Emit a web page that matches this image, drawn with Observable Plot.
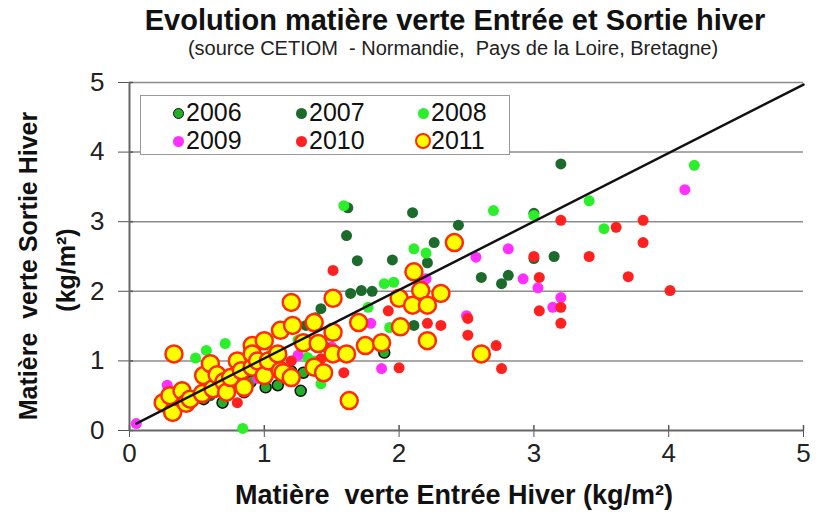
<!DOCTYPE html>
<html><head><meta charset="utf-8">
<script src="https://cdn.jsdelivr.net/npm/d3@7"></script>
<script src="https://cdn.jsdelivr.net/npm/@observablehq/plot@0.6"></script>
<style>
body{margin:0;background:#fff;font-family:"Liberation Sans",Arial,sans-serif;color:#111;}
#wrap{position:relative;width:822px;height:515px;overflow:hidden;}
.t{position:absolute;white-space:nowrap;}
#title{left:0;width:910px;top:6px;text-align:center;font-weight:bold;font-size:29px;line-height:29px;}
#sub{left:0;width:906px;top:38px;text-align:center;font-size:20px;line-height:20px;color:#222;}
#chart{position:absolute;left:0;top:60px;}
#xlab{left:0;width:908px;top:482px;text-align:center;font-weight:bold;font-size:27px;line-height:27px;}
.ylab{font-weight:bold;font-size:25px;line-height:25px;transform:translate(-50%,-50%) rotate(-90deg);}
#legend{position:absolute;left:140px;top:95px;width:368px;height:58px;background:#fff;border:1px solid #999;}
.li{position:absolute;font-size:25px;line-height:25px;}
.sw{position:absolute;border-radius:50%;box-sizing:border-box;}
</style></head>
<body><div id="wrap">
<div class="t" id="title">Evolution matière verte Entrée et Sortie hiver</div>
<div class="t" id="sub">(source CETIOM&nbsp; - Normandie,&nbsp; Pays de la Loire, Bretagne)</div>
<div id="chart"></div>
<div class="t ylab" style="left:28px;top:266px;">Matière&nbsp; verte Sortie Hiver</div>
<div class="t ylab" style="left:66px;top:270px;">(kg/m²)</div>
<div class="t" id="xlab">Matière&nbsp; verte Entrée Hiver (kg/m²)</div>
<div id="legend"></div>
</div>
<script>
const years = ["2006","2007","2008","2009","2010","2011"];
const xTicks = [0,1,2,3,4,5];
const yTicks = [0,1,2,3,4,5];
const refX = [0.05, 5];
const refY = [0.1, 4.97];

const d2006 = [[0.30,0.55],[0.55,0.45],[0.69,0.40],[0.75,0.62],[0.85,0.55],[0.90,0.70],[1.01,0.62],[1.10,0.65],[1.20,0.85],[1.27,0.57],[1.29,0.83],[1.89,1.12]];
const d2007 = [[0.60,0.50],[0.95,0.80],[1.10,1.00],[1.31,1.51],[1.38,1.62],[1.42,1.75],[1.50,1.85],[1.61,2.80],[1.62,3.20],[1.64,1.97],[1.69,2.44],[1.72,2.01],[1.80,2.00],[1.95,2.45],[2.10,3.13],[2.11,1.51],[2.21,2.41],[2.26,2.70],[2.44,2.95],[2.61,2.20],[2.76,2.11],[2.81,2.23],[3.00,2.47],[3.00,3.12],[3.15,2.50],[3.20,3.83]];
const d2008 = [[0.49,1.04],[0.57,1.15],[0.71,1.25],[0.84,0.03],[0.85,0.95],[1.05,1.10],[1.25,1.30],[1.32,1.05],[1.37,1.00],[1.42,0.67],[1.59,3.23],[1.77,1.77],[1.89,2.11],[1.93,1.48],[1.96,2.13],[2.11,2.61],[2.20,2.55],[2.70,3.16],[3.00,3.09],[3.41,3.30],[3.52,2.90],[4.19,3.81]];
const d2009 = [[0.05,0.10],[0.28,0.65],[0.95,0.75],[1.25,1.08],[1.50,1.20],[1.79,1.54],[1.87,0.89],[2.20,2.18],[2.50,1.65],[2.57,2.49],[2.81,2.61],[2.92,2.18],[3.03,2.05],[3.14,1.77],[3.20,1.91],[4.12,3.46]];
const d2010 = [[0.35,0.40],[0.80,0.40],[0.85,0.55],[1.15,0.75],[1.20,1.00],[1.42,1.03],[1.45,1.20],[1.51,2.30],[1.59,0.83],[1.92,1.72],[2.00,0.90],[2.21,1.54],[2.31,1.51],[2.51,1.61],[2.51,1.37],[2.72,1.22],[2.76,0.89],[3.00,2.50],[3.04,2.20],[3.04,1.72],[3.20,3.02],[3.20,1.77],[3.20,1.54],[3.41,2.50],[3.61,2.92],[3.70,2.21],[3.81,3.02],[3.81,2.70],[4.01,2.01]];
const d2011 = [[0.25,0.40],[0.30,0.50],[0.32,0.26],[0.33,1.10],[0.39,0.57],[0.42,0.39],[0.45,0.45],[0.54,0.53],[0.55,0.79],[0.60,0.96],[0.62,0.60],[0.65,0.80],[0.70,0.70],[0.72,0.55],[0.75,0.76],[0.80,1.00],[0.83,0.86],[0.85,0.62],[0.91,1.22],[0.91,0.91],[0.91,1.10],[0.95,1.00],[1.00,1.29],[1.00,0.79],[1.03,1.00],[1.10,1.10],[1.12,1.44],[1.12,0.86],[1.14,0.83],[1.20,1.84],[1.20,0.76],[1.21,1.51],[1.29,1.26],[1.37,1.55],[1.37,0.91],[1.40,1.25],[1.44,0.83],[1.51,1.90],[1.51,1.41],[1.51,1.10],[1.61,1.10],[1.63,0.43],[1.70,1.55],[1.75,1.22],[1.87,1.26],[2.00,1.90],[2.01,1.49],[2.10,1.80],[2.11,2.28],[2.16,2.01],[2.21,1.80],[2.21,1.29],[2.31,1.97],[2.41,2.70],[2.61,1.10]];

const seriesData = [d2006,d2007,d2008,d2009,d2010,d2011];
const fills   = ["#22b02a","#1d6b2c","#2bef2b","#ff30ff","#ff2020","#ffff00"];
const strokes = ["#111111","none","none","none","none","#ff2a00"];
const radii   = [5.5,5.5,5.5,5.5,5.5,8.5];
const sw      = [1.5,0,0,0,0,2.5];

const rows = years.flatMap((yr,i)=>seriesData[i].map(([x,y])=>({year:yr,x,y})));
const ref = refX.map((x,i)=>({x,y:refY[i]}));

const W=822,H=455,mL=129,mR=19,mT=22,mB=85;
const fw=W-mL-mR, fh=H-mT-mB;

const plot = Plot.plot({
  width:W,height:H,marginLeft:mL,marginRight:mR,marginTop:mT,marginBottom:mB,
  style:{fontFamily:'"Liberation Sans",Arial,sans-serif',fontSize:"26px",color:"#222",background:"#fff"},
  x:{domain:[0,5]},
  y:{domain:[0,5]},
  marks:[
    Plot.gridY(yTicks.filter(v=>v>0),{stroke:"#8c8c8c",strokeOpacity:1,strokeWidth:1.5}),
    Plot.axisX(xTicks,{tickSize:7,tickPadding:6,stroke:"#555",label:null,tickFormat:d=>String(d)}),
    Plot.ruleX(xTicks,{x:d=>d,insetTop:fh-5,stroke:"#555",strokeWidth:1.5}),
    Plot.axisY(yTicks,{tickSize:11,tickPadding:14,stroke:"#555",label:null,tickFormat:d=>String(d)}),
    Plot.ruleY(yTicks,{y:d=>d,insetRight:fw-4,stroke:"#555",strokeWidth:1.5}),
    Plot.ruleX([0],{stroke:"#666",strokeWidth:2}),
    Plot.ruleY([0],{stroke:"#666",strokeWidth:2}),
    ...years.map((yr,i)=>Plot.dot(rows.filter(d=>d.year===yr),{x:"x",y:"y",r:radii[i],fill:fills[i],stroke:strokes[i],strokeWidth:sw[i],fillOpacity:1})),
    Plot.line(ref,{x:"x",y:"y",stroke:"#111",strokeWidth:2.5})
  ]
});
document.getElementById("chart").appendChild(plot);

// legend
const lg = document.getElementById("legend");
const colX = [37,160,282];
const rowY = [17,45];
years.forEach((yr,i)=>{
  const c=i%3, r=Math.floor(i/3);
  const s=document.createElement("div");
  s.className="sw";
  const d = i===5?16:11;
  s.style.width=d+"px";s.style.height=d+"px";
  s.style.left=(colX[c]-d/2)+"px";s.style.top=(rowY[r]-d/2)+"px";
  s.style.background=fills[i];
  if(sw[i]>0) s.style.border=sw[i]+"px solid "+strokes[i];
  lg.appendChild(s);
  const t=document.createElement("div");
  t.className="li";
  t.textContent=yr;
  t.style.left=(colX[c]+8)+"px";t.style.top=(rowY[r]-13)+"px";
  lg.appendChild(t);
});
</script>
</body></html>
